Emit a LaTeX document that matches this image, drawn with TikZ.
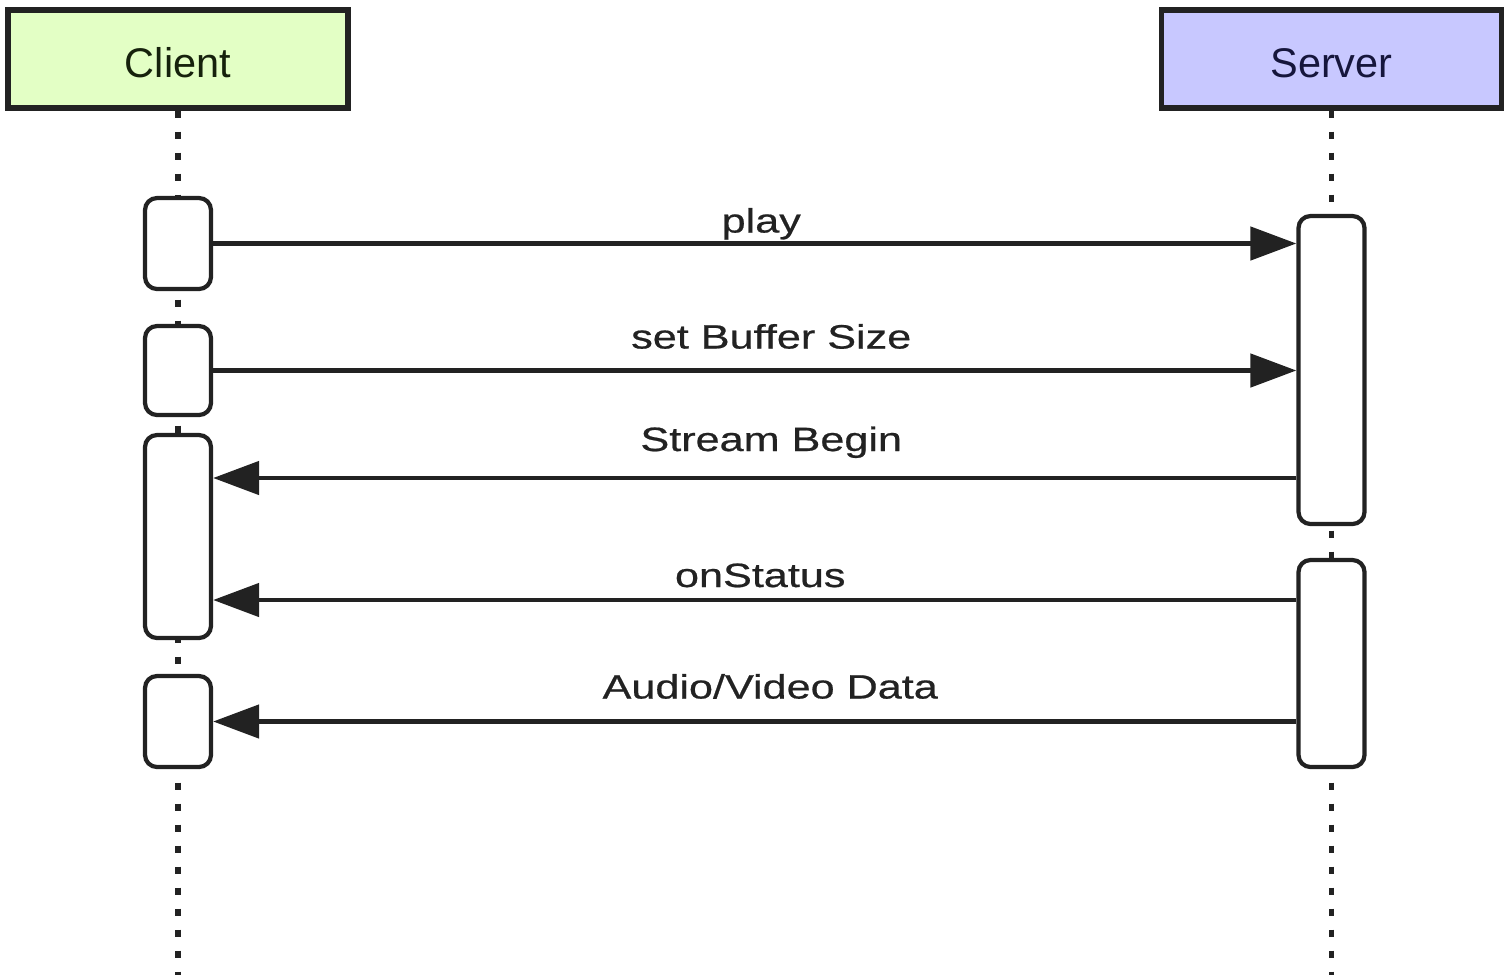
\documentclass[tikz,border=0pt]{standalone}
\usepackage{fontspec}
\setmainfont{Liberation Sans}
\newfontfamily\lblfont[FakeStretch=1.28, FakeBold=0.6]{Liberation Sans}
\usepackage{tikz}
\usetikzlibrary{calc}
\usetikzlibrary{arrows.meta}

\definecolor{clientgreen}{RGB}{227,255,197}
\definecolor{serverblue}{RGB}{200,200,255}
\definecolor{inkgray}{RGB}{34,34,34}

\begin{document}
\begin{tikzpicture}[scale=1]
	\tikzstyle{every node}=[font=\lblfont\fontsize{9.6}{12}\selectfont]
	\tikzstyle{head}=[draw=inkgray, line width=1.5pt, minimum width=3.4cm, minimum height=0.98cm, inner sep=0pt, text height=0.36cm, text depth=0pt, font=\fontsize{11.8}{14}\selectfont]
	\tikzstyle{act}=[draw=inkgray, fill=white, line width=1.2pt, rounded corners=0.12cm, minimum width=0.66cm, inner sep=0pt]
	\tikzstyle{lifeline}=[inkgray, line width=1.6pt, dash pattern=on 0.07cm off 0.14cm]
	\tikzstyle{msg}=[inkgray, line width=1.35pt, -{Triangle[length=4.6mm, width=3.3mm]}]
	
	\useasboundingbox (0,0) rectangle (15.09,-9.75);
	
	\node[head, fill=clientgreen, text={rgb,255:red,22;green,34;blue,12}] (client) at (1.78,-0.59) {Client};
	\node[head, fill=serverblue, text={rgb,255:red,22;green,22;blue,60}] (server) at (13.315,-0.59) {Server};
	
	\coordinate (cEnd) at (1.78,-9.75);
	\coordinate (sEnd) at (13.315,-9.75);
	\draw[lifeline] (client.south) -- (cEnd);
	\draw[lifeline] (server.south) -- (sEnd);
	
	% activations
	\node[act, minimum height=0.91cm] (c1) at (1.78,-2.435) {};
	\node[act, minimum height=0.89cm] (c2) at (1.78,-3.705) {};
	\node[act, minimum height=2.03cm] (c3) at (1.78,-5.365) {};
	\node[act, minimum height=0.91cm] (c4) at (1.78,-7.215) {};
	\node[act, minimum height=3.08cm] (s1) at (13.315,-3.70) {};
	\node[act, minimum height=2.07cm] (s2) at (13.315,-6.635) {};
	
	% messages
	\draw[msg] (c1.east) -- (c1.east -| s1.west)
		node[midway, anchor=base, yshift=0.11cm, xshift=0.065cm] (lplay) {play};
	\draw[msg] (c2.east) -- (c2.east -| s1.west)
		node[midway, anchor=base, yshift=0.22cm, xshift=0.165cm] (lbuf) {set Buffer Size};
	\draw[msg] ([yshift=-1.08cm]s1.west) -- ([yshift=-1.08cm]s1.west -| c3.east)
		node[midway, anchor=base, yshift=0.27cm, xshift=0.165cm] (lbegin) {Stream Begin};
	\draw[msg] ([yshift=0.635cm]s2.west) -- ([yshift=0.635cm]s2.west -| c3.east)
		node[midway, anchor=base, yshift=0.13cm, xshift=0.055cm] (lstatus) {onStatus};
	\draw[msg] (c4.east -| s2.west) -- (c4.east)
		node[midway, anchor=base, yshift=0.23cm, xshift=0.155cm] (ldata) {Audio/Video Data};
	
\end{tikzpicture}
\end{document}
